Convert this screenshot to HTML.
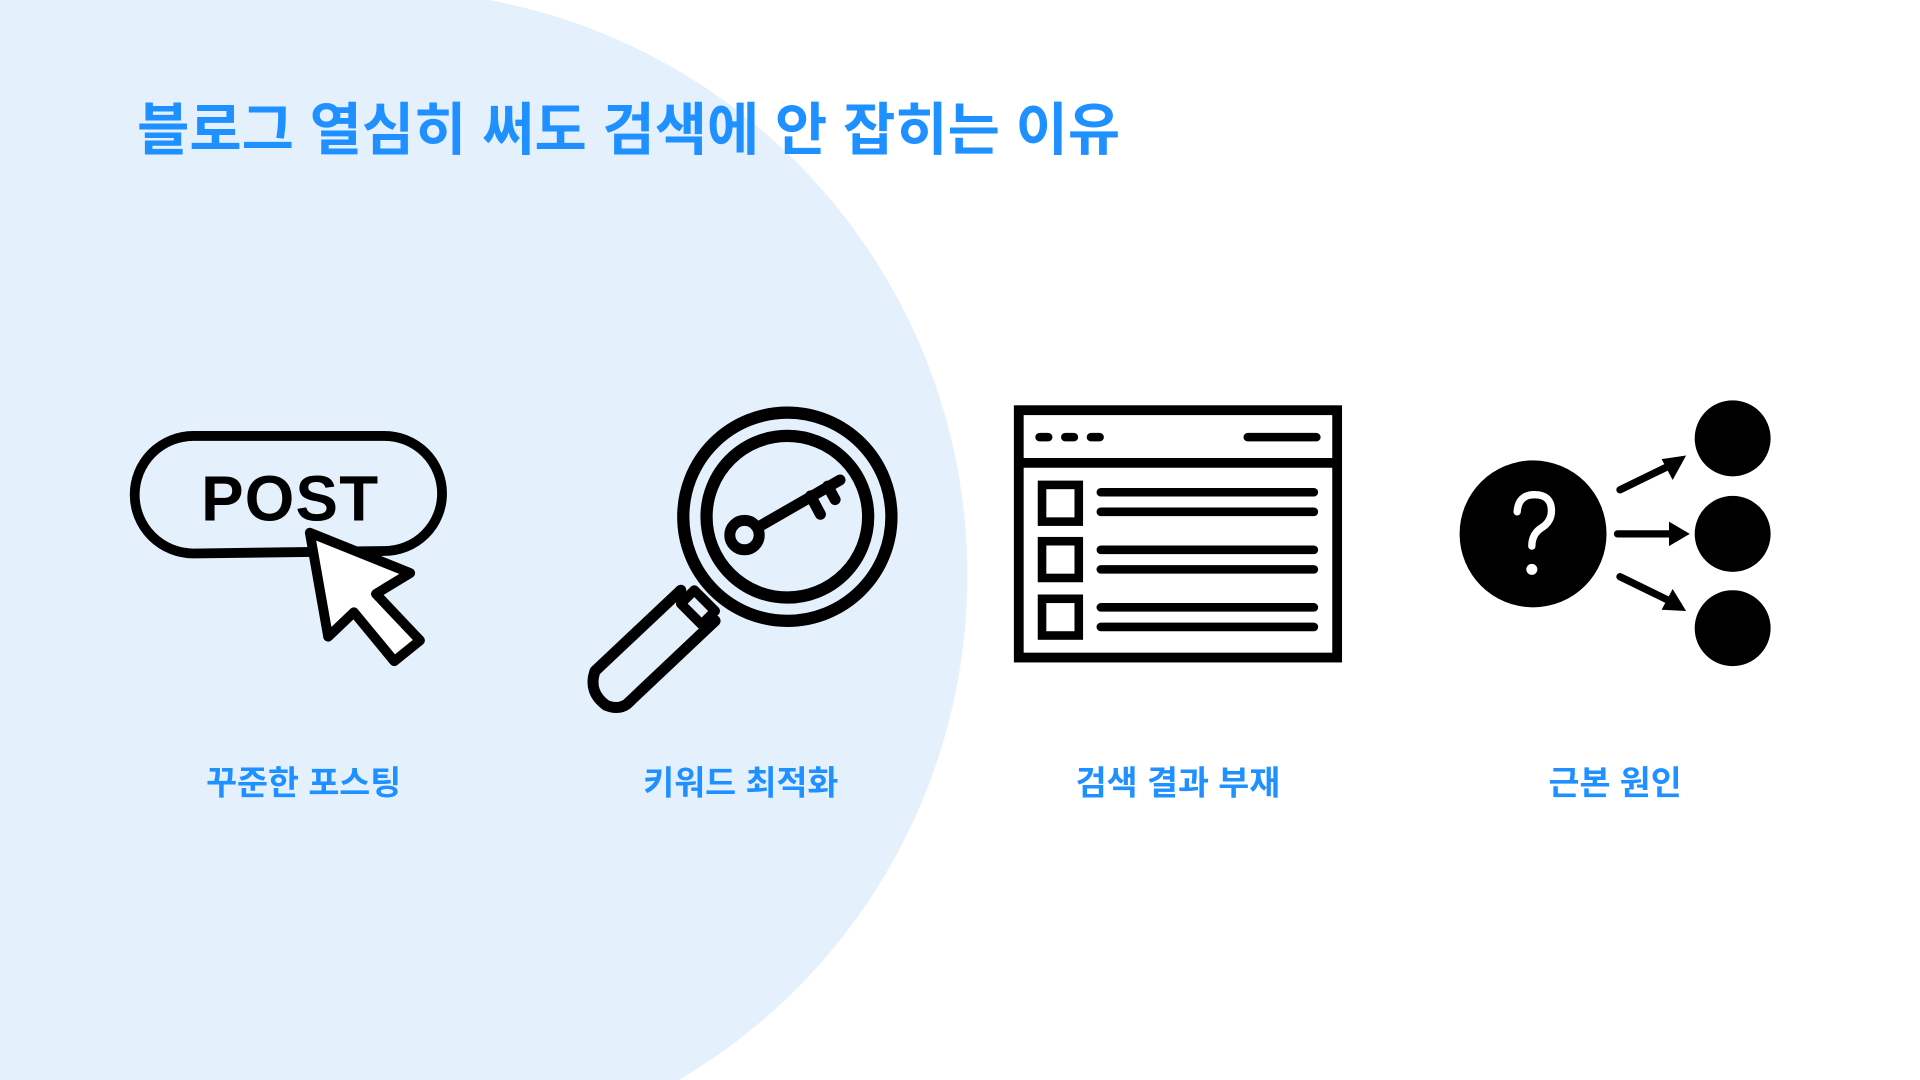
<!DOCTYPE html>
<html><head><meta charset="utf-8"><style>html,body{margin:0;padding:0;background:#fff;overflow:hidden;width:1920px;height:1080px;position:relative}svg{display:block;position:absolute;left:0;top:0}</style></head>
<body>
<svg width="1920" height="1080" viewBox="0 0 1568 882" xmlns="http://www.w3.org/2000/svg">
<rect width="1568" height="882" fill="#fff"/>
<circle cx="312" cy="470" r="478" fill="#E4F0FC"/>
<rect x="0" y="0" width="312" height="882" fill="#E4F0FC"/>
<g font-family="'Liberation Sans','Noto Sans CJK KR',sans-serif" font-weight="bold" fill="#1E90FF">
<text x="112" y="122" font-size="46.4">블로그 열심히 써도 검색에 안 잡히는 이유</text>
<g font-size="27.5" text-anchor="middle">
<text x="248" y="649">꾸준한 포스팅</text>
<text x="605" y="649">키워드 최적화</text>
<text x="962" y="649">검색 결과 부재</text>
<text x="1319" y="649">근본 원인</text>
</g></g>
<g stroke="#000" stroke-width="8" fill="none" stroke-linejoin="round" stroke-linecap="round">
<path d="M158 356 L314 356 A47 47 0 0 1 314 450 L158 452 A48 48 0 0 1 158 356 Z"/>
<path d="M253 435 L335 468 L307 485 L343 523 L322 540 L289 500 L268 520 Z" fill="#fff"/>
</g>
<text x="237" y="425" font-family="'Liberation Sans',sans-serif" font-weight="bold" font-size="52" text-anchor="middle" letter-spacing="1">POST</text>
<g stroke="#000" fill="none" stroke-linecap="round" stroke-linejoin="round">
<circle cx="643" cy="422" r="85" stroke-width="10"/>
<circle cx="643" cy="422" r="66" stroke-width="10"/>
<path d="M567 482 L584 499 L573 510 L556 493 Z" stroke-width="8"/>
<path d="M556 482 L486 548 Q480 565 495 576 Q505 580 512 575 L584 507" stroke-width="9"/>
<circle cx="608" cy="437" r="12" stroke-width="9"/>
<path d="M620 430 L686 392 M662 405 L670 420 M676 397 L682 408" stroke-width="9"/>
</g>
<g stroke="#000" fill="none" stroke-width="7" stroke-linecap="round">
<rect x="832" y="335" width="260" height="202" stroke-width="8" stroke-linecap="butt"/>
<line x1="832" y1="378" x2="1092" y2="378" stroke-width="8" stroke-linecap="butt"/>
<path d="M849 357h7M870 357h7M891 357h7M1019 357h56"/>
<rect x="851" y="396" width="30" height="30"/><rect x="851" y="442" width="30" height="30"/><rect x="851" y="489" width="30" height="30"/>
<path d="M899 402h174M899 418h174M899 449h174M899 465h174M899 496h174M899 512h174"/>
</g>
<circle cx="1252" cy="436" r="60" fill="#000"/>
<g stroke="#fff" stroke-width="6" fill="none" stroke-linecap="round" stroke-linejoin="round">
<path d="M1239 418 Q1240 404 1253 404 Q1267 404 1267 417 Q1267 426 1259 431 Q1251 436 1251 446"/>
</g>
<circle cx="1251" cy="465" r="4.5" fill="#fff"/>
<circle cx="1415" cy="358" r="31"/><circle cx="1415" cy="436" r="31"/><circle cx="1415" cy="513" r="31"/>
<g stroke="#000" stroke-width="6" stroke-linecap="round">
<path d="M1323 400 L1362 381 M1321 436 L1364 436 M1323 471 L1362 490"/>
</g>
<path d="M1377 372 L1366 392 L1357 375 Z M1380 436 L1363 446 L1363 426 Z M1377 499 L1357 498 L1366 481 Z"/>
</svg>
</body></html>
